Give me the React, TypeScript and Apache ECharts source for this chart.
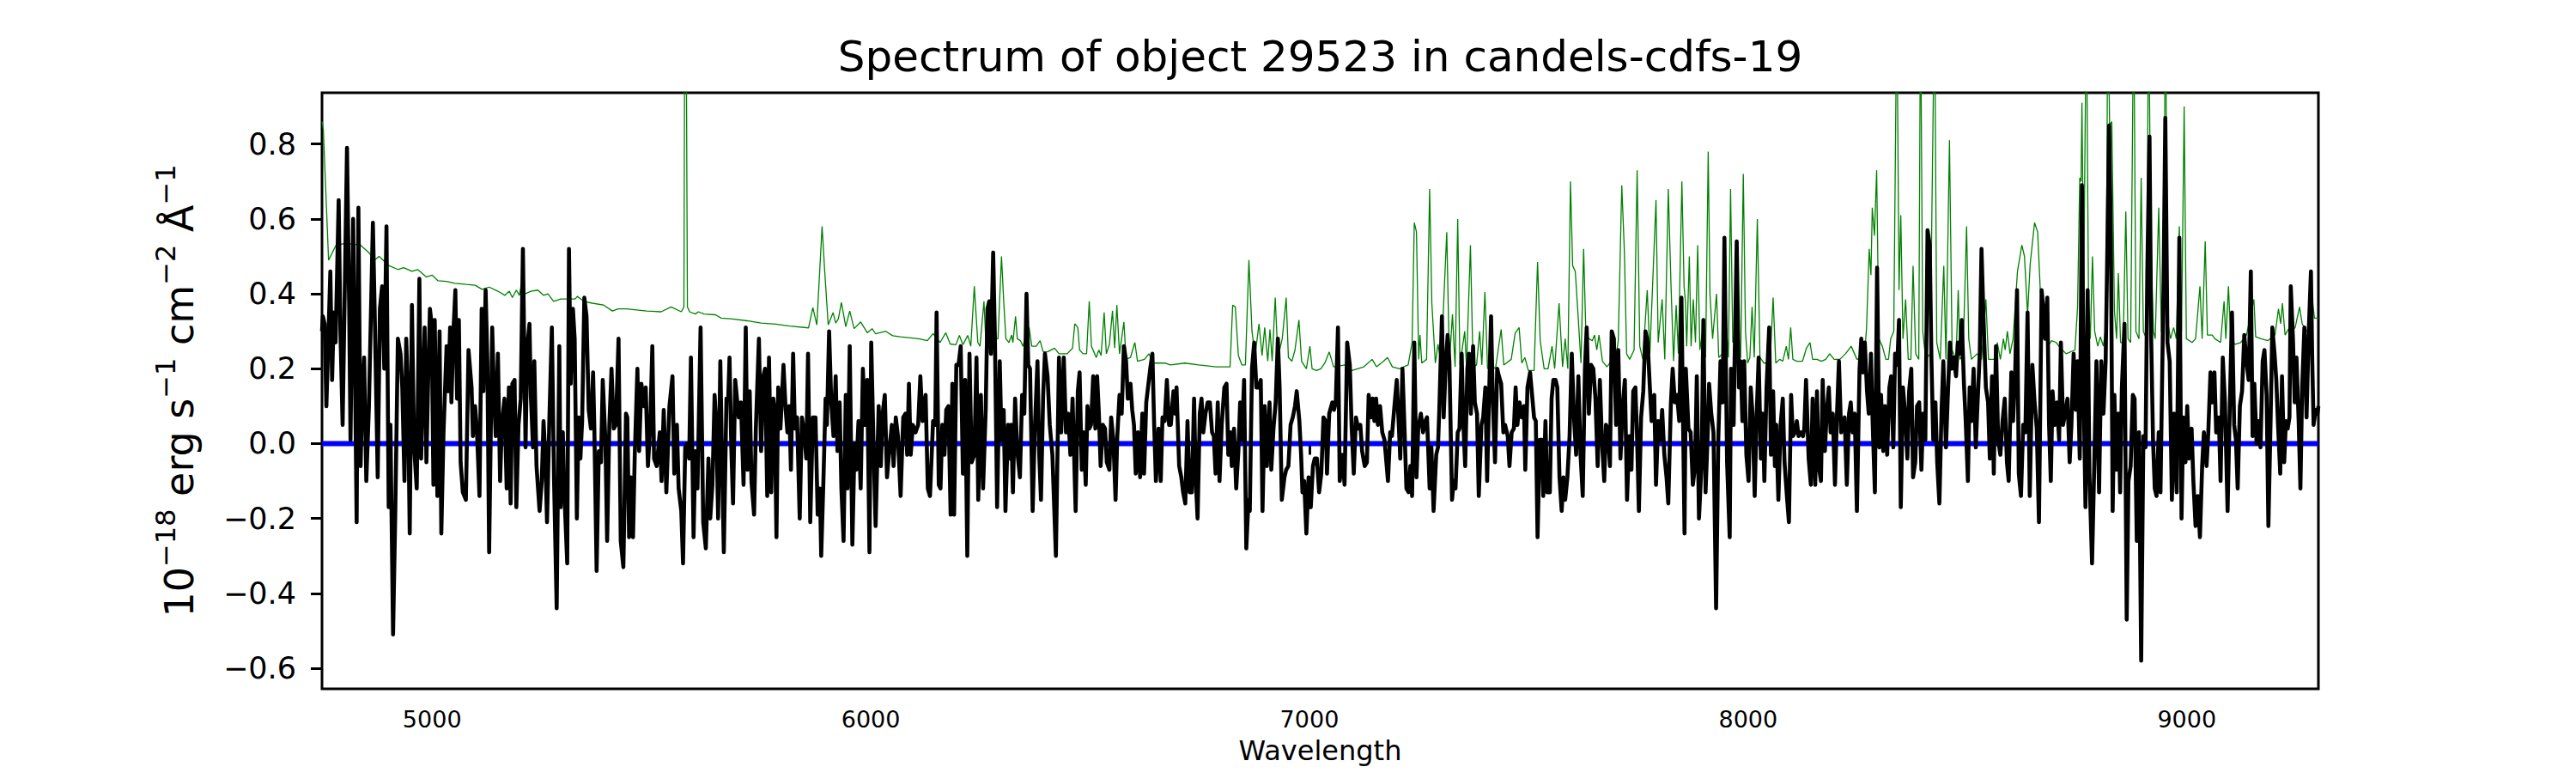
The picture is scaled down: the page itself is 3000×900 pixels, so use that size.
import React, { useEffect, useRef } from "react";
import * as echarts from "echarts";

const FONT = "DejaVu Sans";
const TITLE = "Spectrum of object 29523 in candels-cdfs-19";
const X_MIN = 4749;
const X_MAX = 9300;
const Y_MIN = -0.655;
const Y_MAX = 0.937;
const X_TICKS = [5000, 6000, 7000, 8000, 9000];
const Y_TICKS = [-0.6, -0.4, -0.2, 0, 0.2, 0.4, 0.6, 0.8];

// black: object flux [wavelength, flux]
const FLUX_A: [number, number][] = [
  [4749,0.30],[4751,0.34],[4755,0.32],[4759,0.10],[4768,0.46],[4772,0.17],[4776,0.35],[4780,0.27],[4787,0.65],[4791,0.30],[4796,0.05],[4806,0.79],[4811,0.36],[4814,0.01],[4820,0.60],[4824,0.22],[4828,-0.21],[4832,0.63],[4837,-0.06],[4841,0.14],[4845,0.23],[4850,-0.10],[4856,0.10],[4865,0.59],[4869,0.36],[4876,-0.09],[4881,0.36],[4886,0.42],[4891,0.20],[4896,0.58],[4901,-0.17],[4905,0.05],[4911,-0.51],[4916,-0.19],[4922,0.28],[4928,0.24],[4932,0.15],[4937,-0.10],[4941,0.28],[4945,0.13],[4949,-0.24],[4954,0.37],[4959,-0.01],[4965,-0.12],[4971,0.44],[4975,-0.04],[4979,0.14],[4983,0.31],[4987,-0.05],[4991,0.17],[4995,0.36],[4999,0.32],[5003,-0.11],[5006,0.33],[5012,-0.14],[5017,0.30],[5021,-0.24],[5026,0.03],[5033,0.26],[5037,0.14],[5041,0.31],[5044,0.11],[5049,0.31],[5053,0.41],[5057,0.12],[5061,0.33],[5065,-0.05],[5070,-0.13],[5077,-0.15],[5083,0.25],[5090,0.15],[5093,0.02],[5098,0.10],[5102,0.04],[5108,-0.14],[5113,0.36],[5117,0.14],[5122,0.41],[5126,0.22],[5130,-0.29],[5137,0.31],[5141,0.14],[5145,0.02],[5150,0.24],[5155,-0.10],[5159,0.05],[5165,0.12],[5170,-0.12],[5175,0.15],[5179,-0.16],[5183,0.16],[5188,0.17],[5192,-0.17],[5197,0.05],[5202,0.12],[5207,0.52],[5213,-0.01],[5217,0.26],[5222,0.32],[5225,0.13],[5230,-0.01],[5233,0.22],[5238,-0.06],[5245,-0.18],[5250,-0.10],[5254,0.06],[5258,-0.03],[5262,-0.21],[5267,0.05],[5273,0.31],[5278,-0.10],[5284,-0.44],[5290,0.26],[5293,-0.17],[5298,0.03],[5301,-0.12],[5308,-0.32],[5312,0.52],[5316,0.16],[5321,0.36],[5325,0.28],[5330,-0.20],[5334,0.07],[5338,-0.04],[5342,0.06],[5347,0.39],[5352,0.34],[5357,0.09],[5362,0.04],[5367,0.19],[5370,0.03],[5375,-0.34],[5380,-0.02],[5385,-0.05],[5389,0.17],[5395,0.01],[5399,-0.26],[5404,0.05],[5409,0.20],[5414,0.04],[5419,0.05],[5425,0.28],[5430,-0.26],[5436,-0.33],[5442,0.08]
];
const FLUX_B: [number, number][] = [
  [5445,0.07],[5449,-0.25],[5453,-0.09],[5458,-0.25],[5462,-0.03],[5468,0.20],[5472,-0.02],[5477,0.16],[5483,0.10],[5487,0.15],[5492,-0.06],[5497,0.04],[5502,0.26],[5506,-0.04],[5512,-0.06],[5519,0.03],[5523,-0.10],[5528,0.09],[5534,-0.13],[5541,0.10],[5548,0.18],[5552,-0.08],[5558,0.05],[5562,-0.12],[5568,-0.18],[5572,-0.32],[5577,-0.01],[5581,0.00],[5586,-0.04],[5590,0.23],[5596,-0.25],[5600,-0.02],[5605,-0.12],[5612,0.31],[5618,-0.21],[5624,-0.28],[5630,-0.04],[5634,-0.20],[5639,-0.11],[5644,0.13],[5648,0.05],[5652,-0.20],[5657,0.22],[5661,-0.05],[5665,-0.29],[5671,0.12],[5675,0.12],[5678,0.23],[5682,-0.01],[5686,-0.16],[5691,0.17],[5695,0.12],[5699,0.07],[5704,0.11],[5710,-0.11],[5715,0.31],[5719,-0.07],[5724,0.14],[5728,-0.10],[5734,-0.19],[5738,0.04],[5745,0.28],[5750,-0.02],[5755,0.18],[5759,0.20],[5764,-0.14],[5768,0.23],[5773,-0.13],[5778,0.12],[5781,0.09],[5785,-0.25],[5789,0.15],[5794,0.04],[5801,0.21],[5806,0.09],[5810,0.03],[5814,0.10],[5818,-0.07],[5823,0.24],[5827,0.04],[5832,0.07],[5838,-0.20],[5843,0.07],[5848,0.03],[5853,-0.04],[5857,0.24],[5862,-0.21],[5868,0.07],[5874,0.07],[5879,-0.19],[5884,-0.12],[5887,-0.30],[5892,-0.10],[5897,0.12],[5900,0.05],[5905,0.30],[5910,0.11],[5915,0.02],[5920,0.18],[5924,-0.02],[5929,0.11],[5933,-0.12],[5938,-0.26],[5943,0.13],[5947,-0.12],[5952,0.26],[5958,-0.27],[5963,0.00],[5967,-0.07],[5972,0.06],[5977,-0.12],[5982,0.20],[5987,0.05],[5992,0.17],[5997,-0.29],[6001,0.27],[6006,0.01],[6011,-0.22],[6018,0.10],[6023,-0.06],[6027,0.08],[6032,0.13],[6037,-0.09],[6042,-0.02],[6048,0.05],[6052,-0.06],[6057,0.07],[6062,0.02],[6068,-0.14],[6074,0.07],[6079,0.08],[6083,-0.03],[6087,0.16],[6091,-0.03],[6096,0.05],[6102,0.03],[6108,0.05],[6113,0.18],[6118,0.06],[6125,0.13],[6130,-0.12],[6135,-0.14],[6142,0.06],[6147,0.05],[6150,0.35],[6155,-0.11],[6159,-0.12],[6163,0.05],[6168,-0.03],[6172,0.09],[6177,0.10],[6182,-0.19],[6186,0.16],[6190,-0.19],[6195,0.21],[6200,0.21],[6205,0.26],[6210,-0.08],[6215,0.17],[6220,-0.30],[6225,0.24],[6230,-0.05],[6236,-0.03],[6241,0.23],[6245,-0.15]
];
const FLUX_C: [number, number][] = [
  [6251,0.13],[6256,-0.12],[6262,0.09],[6266,0.36],[6270,0.38],[6274,0.24],[6279,0.51],[6283,0.28],[6288,-0.17],[6294,0.22],[6298,0.01],[6303,0.09],[6307,-0.18],[6313,0.05],[6317,-0.04],[6320,0.05],[6324,-0.13],[6329,0.12],[6334,-0.02],[6340,-0.09],[6345,0.13],[6350,0.08],[6355,0.40],[6359,0.21],[6363,0.20],[6369,-0.18],[6374,0.04],[6380,0.22],[6384,-0.03],[6388,-0.15],[6393,0.13],[6397,0.24],[6403,0.18],[6408,0.05],[6414,-0.03],[6422,-0.30],[6429,0.23],[6434,0.03],[6440,0.23],[6445,0.03],[6450,0.08],[6455,-0.03],[6460,0.12],[6467,-0.18],[6472,0.14],[6476,0.19],[6481,-0.07],[6485,0.03],[6490,-0.11],[6494,0.10],[6498,0.04],[6502,0.05],[6507,0.18],[6512,0.04],[6516,0.18],[6520,0.08],[6524,-0.06],[6529,0.05],[6534,0.04],[6538,-0.05],[6544,-0.07],[6548,0.07],[6553,0.01],[6558,-0.15],[6562,0.02],[6567,0.13],[6572,0.08],[6577,0.26],[6582,0.22],[6586,0.12],[6592,0.16],[6596,0.09],[6600,0.05],[6604,-0.08],[6609,0.03],[6614,-0.09],[6619,0.08],[6623,-0.08],[6628,0.11],[6632,0.15],[6637,0.20],[6642,0.24],[6646,0.05],[6650,-0.10],[6656,0.04],[6661,-0.10],[6665,0.07],[6670,0.06],[6675,0.17],[6680,0.05],[6684,0.05],[6690,0.14],[6694,0.08],[6697,0.15],[6703,-0.06],[6708,-0.09],[6712,-0.13],[6717,-0.16],[6722,0.06],[6727,-0.13],[6732,-0.13],[6737,0.12],[6741,-0.10],[6745,-0.20],[6750,0.08],[6754,0.12],[6758,0.03],[6763,0.08],[6768,0.11],[6773,0.11],[6778,0.03],[6782,0.02],[6786,-0.08],[6791,0.11],[6795,-0.10],[6800,0.05],[6806,0.15],[6811,0.16],[6815,-0.03],[6820,0.03],[6823,-0.06],[6828,0.04],[6833,-0.12],[6838,-0.02],[6842,0.11],[6846,0.01],[6851,0.17],[6856,-0.28],[6861,-0.15],[6864,-0.18],[6869,0.20],[6874,0.27],[6879,0.15],[6884,0.15],[6889,0.17],[6893,-0.18],[6898,0.10],[6903,-0.06],[6909,0.11],[6913,-0.07],[6918,0.04],[6923,0.11],[6928,0.28],[6932,0.15],[6937,-0.15],[6943,-0.09],[6947,-0.07],[6952,-0.06],[6957,0.05],[6962,0.07],[6967,0.10],[6971,0.14],[6977,0.06],[6981,-0.03],[6984,-0.13],[6988,-0.10],[6993,-0.24],[6998,-0.09],[7003,-0.17],[7008,-0.06],[7012,-0.04],[7017,-0.04],[7022,-0.13],[7027,-0.08],[7032,0.07],[7037,0.06],[7040,-0.08],[7045,0.08]
];
const FLUX_D: [number, number][] = [
  [7052,0.11],[7056,0.09],[7060,0.11],[7065,0.31],[7069,-0.10],[7075,-0.03],[7080,-0.11],[7086,0.27],[7092,0.21],[7096,0.05],[7101,-0.08],[7106,0.07],[7111,0.04],[7116,0.05],[7120,-0.02],[7126,-0.06],[7131,-0.05],[7135,0.13],[7140,0.07],[7144,0.12],[7148,0.06],[7152,0.12],[7156,0.05],[7161,0.10],[7166,0.03],[7171,0.01],[7179,-0.10],[7184,0.03],[7188,0.02],[7193,0.09],[7199,0.17],[7204,0.04],[7207,-0.04],[7212,0.20],[7217,0.03],[7221,-0.12],[7226,-0.13],[7230,-0.06],[7234,-0.14],[7239,0.27],[7244,-0.09],[7248,0.04],[7254,0.08],[7259,0.03],[7264,0.06],[7268,0.07],[7274,-0.12],[7278,-0.01],[7283,-0.18],[7289,-0.03],[7293,-0.01],[7296,0.09],[7302,0.34],[7306,0.07],[7311,0.22],[7315,0.29],[7319,0.22],[7325,-0.15],[7329,-0.10],[7333,-0.12],[7338,0.03],[7342,0.04],[7347,0.24],[7351,0.05],[7355,-0.06],[7360,0.20],[7364,0.24],[7368,0.08],[7373,0.26],[7377,0.11],[7382,0.08],[7386,-0.14],[7392,0.05],[7396,0.07],[7401,0.15],[7405,-0.10],[7410,0.15],[7414,0.34],[7418,0.12],[7423,-0.05],[7428,0.20],[7432,0.18],[7437,0.16],[7442,0.03],[7446,0.05],[7452,0.02],[7456,-0.06],[7461,0.03],[7466,0.04],[7470,0.15],[7474,0.05],[7479,0.11],[7484,0.07],[7489,0.10],[7492,-0.07],[7497,0.15],[7503,0.19],[7506,0.15],[7512,0.07],[7516,0.06],[7520,-0.25],[7525,0.01],[7530,0.01],[7533,-0.14],[7538,0.06],[7542,-0.13],[7548,-0.13],[7552,0.12],[7556,0.17],[7561,0.17],[7565,0.15],[7570,-0.09],[7575,-0.18],[7579,-0.09],[7583,-0.15],[7588,-0.09],[7593,0.02],[7598,0.24],[7603,0.07],[7608,-0.03],[7613,0.18],[7618,-0.03],[7623,-0.14],[7628,0.20],[7632,0.31],[7637,0.08],[7642,0.21],[7647,0.20],[7652,0.12],[7657,-0.06],[7662,0.17],[7667,0.00],[7672,-0.10],[7676,0.05],[7680,0.04],[7685,-0.06],[7689,0.30],[7694,0.28],[7699,0.05],[7704,0.25],[7709,-0.04],[7714,0.10],[7719,0.17],[7724,-0.15],[7729,0.02],[7734,-0.07],[7738,0.14],[7743,0.15],[7747,0.01],[7751,-0.18],[7756,0.07],[7761,0.14],[7766,0.30],[7771,0.27],[7776,0.15],[7780,0.06],[7786,0.13],[7790,-0.11],[7795,0.06],[7800,0.01],[7804,0.09],[7809,-0.03],[7814,-0.09],[7818,-0.16],[7824,0.11],[7828,0.20],[7833,0.11],[7838,0.13],[7843,0.06],[7848,0.39]
];
const FLUX_E: [number, number][] = [
  [7855,-0.24],[7858,0.20],[7864,0.04],[7869,0.03],[7874,-0.11],[7879,-0.06],[7883,0.18],[7888,-0.20],[7894,-0.05],[7898,0.33],[7903,-0.13],[7908,0.03],[7911,0.16],[7916,0.08],[7921,0.03],[7927,-0.44],[7932,0.01],[7937,0.22],[7942,0.11],[7946,0.55],[7952,-0.05],[7958,-0.25],[7961,0.20],[7967,0.05],[7969,0.21],[7974,0.54],[7979,0.15],[7983,0.22],[7987,0.06],[7991,0.22],[7996,-0.03],[8001,-0.10],[8006,0.15],[8010,0.08],[8015,-0.14],[8019,0.06],[8024,0.23],[8029,-0.04],[8033,0.08],[8037,-0.10],[8042,0.15],[8048,0.31],[8052,-0.03],[8057,0.14],[8061,-0.06],[8064,0.05],[8069,-0.15],[8074,0.05],[8079,0.12],[8083,-0.05],[8089,-0.15],[8093,-0.21],[8098,0.13],[8102,0.02],[8107,0.03],[8111,0.06],[8115,0.02],[8120,0.03],[8125,0.02],[8128,0.04],[8132,0.17],[8138,-0.04],[8143,-0.11],[8147,0.12],[8153,-0.11],[8157,0.14],[8161,-0.06],[8166,-0.10],[8170,0.17],[8175,-0.02],[8179,0.08],[8184,0.15],[8188,0.03],[8193,0.08],[8198,-0.11],[8202,0.06],[8207,0.22],[8212,0.03],[8216,0.05],[8220,0.07],[8225,-0.11],[8230,0.08],[8234,0.11],[8238,0.03],[8243,0.08],[8248,-0.18],[8254,0.20],[8258,0.28],[8262,0.19],[8266,0.27],[8271,0.14],[8275,0.08],[8280,0.24],[8284,0.05],[8289,-0.13],[8294,0.47],[8299,-0.01],[8303,0.13],[8308,-0.02],[8312,0.10],[8317,-0.03],[8322,0.15],[8326,0.18],[8331,-0.01],[8335,0.24],[8340,0.21],[8344,0.33],[8348,-0.17],[8353,0.15],[8358,0.08],[8363,-0.04],[8367,0.14],[8372,0.20],[8376,-0.09],[8381,-0.05],[8385,0.10],[8390,0.11],[8395,-0.07],[8399,0.08],[8404,0.01],[8409,0.57],[8414,0.53],[8418,0.22],[8422,0.01],[8427,0.11],[8431,-0.05],[8436,-0.16],[8441,0.09],[8445,0.22],[8451,-0.01],[8455,0.12],[8460,0.27],[8464,0.20],[8469,0.23],[8474,0.18],[8478,0.27],[8483,0.24],[8487,0.33],[8492,0.16],[8496,0.06],[8501,-0.10],[8505,0.15],[8509,0.06],[8514,0.20],[8519,-0.01],[8522,0.08],[8528,0.24],[8532,0.52],[8537,0.32],[8542,0.15],[8547,0.11],[8551,-0.04],[8556,0.18],[8560,-0.08],[8565,0.26],[8570,0.01],[8575,-0.03],[8580,0.06],[8585,0.12],[8590,-0.05],[8594,-0.10]
];
const FLUX_F: [number, number][] = [
  [8600,0.19],[8604,0.06],[8609,0.20],[8613,0.41],[8617,-0.08],[8622,-0.14],[8627,0.05],[8632,0.03],[8637,0.35],[8642,-0.14],[8648,0.21],[8653,0.11],[8658,0.04],[8663,-0.21],[8669,0.41],[8673,0.36],[8677,0.28],[8682,0.39],[8686,0.05],[8690,-0.10],[8694,0.14],[8699,0.05],[8704,0.11],[8709,0.01],[8713,0.27],[8718,0.05],[8724,0.09],[8728,0.12],[8733,-0.05],[8737,0.05],[8742,0.24],[8747,0.09],[8751,0.22],[8756,-0.04],[8761,0.69],[8765,0.13],[8769,-0.17],[8774,0.41],[8778,-0.08],[8784,-0.32],[8789,-0.06],[8794,0.22],[8800,-0.13],[8805,0.22],[8810,0.08],[8815,0.22],[8819,0.53],[8823,0.85],[8827,0.55],[8831,-0.18],[8835,0.13],[8839,-0.07],[8844,0.08],[8848,-0.13],[8852,0.15],[8858,0.32],[8863,-0.47],[8867,-0.10],[8872,-0.06],[8877,0.13],[8881,0.12],[8886,-0.26],[8891,0.03],[8896,-0.58],[8901,0.02],[8906,-0.01],[8910,0.46],[8915,0.82],[8919,0.27],[8923,0.01],[8927,-0.12],[8931,-0.14],[8936,0.03],[8940,-0.13],[8947,0.43],[8951,0.87],[8956,0.27],[8961,0.22],[8966,-0.15],[8971,0.08],[8977,-0.13],[8983,0.55],[8988,-0.20],[8992,0.07],[8997,-0.05],[9001,0.10],[9005,-0.04],[9011,0.04],[9015,-0.10],[9020,-0.22],[9025,-0.14],[9030,-0.25],[9035,-0.06],[9039,0.03],[9045,-0.06],[9049,0.03],[9054,0.19],[9058,0.11],[9063,0.19],[9067,0.03],[9073,0.07],[9077,-0.10],[9082,0.23],[9087,0.11],[9093,-0.18],[9098,0.10],[9103,0.35],[9108,0.05],[9112,0.01],[9116,-0.12],[9121,0.10],[9126,0.14],[9131,0.29],[9136,0.22],[9141,0.17],[9146,0.46],[9150,0.02],[9154,0.16],[9159,0.00],[9163,0.06],[9168,-0.01],[9173,0.22],[9177,0.25],[9182,0.13],[9186,-0.22],[9191,0.06],[9195,0.31],[9200,0.24],[9204,0.17],[9208,0.05],[9213,-0.08],[9217,0.18],[9222,-0.05],[9226,0.06],[9230,0.04],[9234,0.07],[9237,0.42],[9242,0.28],[9246,0.11],[9250,0.23],[9255,0.06],[9259,-0.12],[9263,0.15],[9268,0.31],[9273,0.07],[9278,0.30],[9283,0.46],[9286,0.22],[9289,0.05],[9294,0.09],[9298,0.08],[9300,0.10]
];

// green: noise / sky spectrum [wavelength, sigma]
const SIGMA_A: [number, number][] = [
  [4749,0.86],[4752,0.84],[4764,0.49],[4781,0.53],[4804,0.535],[4837,0.53],[4856,0.51],[4869,0.49],[4879,0.50],[4902,0.475],[4922,0.465],[4935,0.47],[4954,0.46],[4967,0.465],[4987,0.445],[5000,0.45],[5013,0.435],[5033,0.433],[5052,0.428],[5078,0.425],[5098,0.423],[5114,0.412],[5130,0.418],[5150,0.407],[5166,0.396],[5176,0.407],[5183,0.39],[5192,0.41],[5199,0.396],[5203,0.423],[5212,0.40],[5225,0.407],[5241,0.41],[5254,0.396],[5264,0.40],[5277,0.38],[5293,0.386],[5326,0.386],[5331,0.393],[5346,0.38],[5365,0.375],[5391,0.37],[5411,0.354],[5424,0.36],[5443,0.36],
  [5489,0.354],[5522,0.352],[5545,0.365],[5568,0.352],[5574,0.365],[5576,1.2],[5579,1.2],[5582,0.365],[5587,0.352],[5600,0.346],[5607,0.352],[5620,0.346],[5646,0.344],[5659,0.335],[5685,0.333],[5718,0.328],[5750,0.322],[5783,0.319],[5815,0.314],[5858,0.309],[5868,0.363],[5877,0.317],[5889,0.58],[5895,0.46],[5903,0.317],[5914,0.35],[5920,0.322],[5926,0.333],[5933,0.377],[5943,0.312],[5952,0.354],[5962,0.307],[5977,0.325],[5992,0.296],[6003,0.307],[6011,0.293],[6034,0.30],[6050,0.288],[6067,0.285],[6109,0.28],[6129,0.275],[6142,0.294],[6158,0.27],[6171,0.296],[6181,0.266],[6194,0.264],[6202,0.289],[6210,0.264],[6221,0.289],[6228,0.26],[6236,0.42],[6244,0.27]
];
const SIGMA_B: [number, number][] = [
  [6249,0.26],[6258,0.38],[6262,0.28],[6268,0.37],[6273,0.27],[6279,0.33],[6284,0.28],[6290,0.28],[6298,0.50],[6303,0.38],[6308,0.28],[6315,0.27],[6321,0.29],[6324,0.27],[6330,0.34],[6334,0.28],[6341,0.275],[6347,0.26],[6356,0.30],[6361,0.31],[6367,0.26],[6377,0.26],[6386,0.275],[6393,0.245],[6403,0.245],[6419,0.255],[6429,0.24],[6448,0.24],[6460,0.255],[6465,0.32],[6472,0.31],[6476,0.25],[6484,0.24],[6492,0.24],[6498,0.38],[6503,0.26],[6514,0.23],[6520,0.25],[6525,0.235],[6532,0.35],[6537,0.24],[6544,0.265],[6551,0.355],[6556,0.255],[6561,0.37],[6567,0.24],[6577,0.325],[6582,0.225],[6592,0.23],[6602,0.27],[6608,0.22],[6624,0.225],[6634,0.24],[6644,0.215],[6670,0.215],[6683,0.21],[6716,0.215],[6748,0.21],[6787,0.205],[6819,0.205],[6825,0.37],[6831,0.365],[6838,0.235],[6846,0.21],[6854,0.21],[6862,0.49],[6869,0.30],[6876,0.235],[6885,0.32],[6892,0.235],[6898,0.31],[6905,0.22],[6910,0.305],[6915,0.22],[6922,0.39],[6928,0.23],[6938,0.28],[6947,0.39],[6952,0.23],[6960,0.22],[6967,0.25],[6976,0.33],[6982,0.22],[6993,0.20],[7001,0.26],[7006,0.20],[7016,0.195],[7026,0.20],[7035,0.215],[7045,0.245]
];
const SIGMA_C: [number, number][] = [
  [7055,0.205],[7081,0.21],[7097,0.195],[7124,0.205],[7143,0.225],[7153,0.205],[7169,0.22],[7178,0.23],[7189,0.205],[7205,0.20],[7225,0.21],[7234,0.27],[7239,0.59],[7244,0.565],[7249,0.225],[7252,0.29],[7256,0.215],[7267,0.225],[7274,0.68],[7279,0.375],[7287,0.215],[7293,0.265],[7300,0.215],[7313,0.565],[7319,0.215],[7326,0.345],[7332,0.205],[7338,0.60],[7343,0.21],[7354,0.30],[7358,0.205],[7367,0.53],[7373,0.205],[7381,0.21],[7388,0.30],[7393,0.21],[7400,0.405],[7406,0.20],[7414,0.21],[7424,0.20],[7437,0.305],[7443,0.21],[7460,0.225],[7469,0.295],[7478,0.31],[7484,0.215],[7491,0.23],[7499,0.195],[7512,0.195],[7520,0.485],[7526,0.275],[7535,0.20],[7544,0.20],[7553,0.26],[7559,0.20],[7569,0.375],[7577,0.205],[7583,0.28],[7589,0.20],[7595,0.70],[7600,0.475],[7606,0.46],[7613,0.33],[7619,0.215],[7625,0.52],[7630,0.30],[7637,0.28],[7645,0.275],[7650,0.29],[7655,0.25],[7660,0.29],[7668,0.22],[7678,0.205],[7688,0.22],[7698,0.225],[7704,0.275],[7712,0.69],[7718,0.51],[7723,0.24],[7730,0.225],[7740,0.25],[7747,0.73],[7753,0.26],[7760,0.225],[7770,0.41],[7776,0.24],[7790,0.65],[7795,0.27],[7804,0.385],[7810,0.225],[7818,0.68],[7824,0.43],[7830,0.22]
];
const SIGMA_D: [number, number][] = [
  [7836,0.37],[7841,0.24],[7849,0.70],[7854,0.42],[7857,0.38],[7860,0.26],[7866,0.50],[7870,0.26],[7875,0.385],[7880,0.27],[7885,0.53],[7890,0.25],[7896,0.30],[7903,0.23],[7909,0.78],[7913,0.40],[7919,0.28],[7928,0.40],[7933,0.23],[7942,0.24],[7950,0.32],[7955,0.23],[7960,0.68],[7965,0.27],[7971,0.30],[7975,0.215],[7983,0.23],[7989,0.72],[7994,0.30],[7999,0.215],[8004,0.23],[8009,0.365],[8014,0.23],[8021,0.60],[8027,0.23],[8036,0.215],[8050,0.215],[8057,0.39],[8063,0.215],[8072,0.225],[8079,0.22],[8087,0.26],[8092,0.225],[8097,0.31],[8102,0.225],[8111,0.22],[8124,0.22],[8133,0.255],[8141,0.27],[8147,0.225],[8157,0.225],[8167,0.22],[8177,0.225],[8186,0.24],[8196,0.225],[8209,0.225],[8222,0.24],[8235,0.26],[8248,0.225],[8265,0.23],[8270,0.31],[8276,0.52],[8280,0.45],[8283,0.63],[8288,0.555],[8293,0.73],[8298,0.28],[8306,0.26],[8314,0.225],[8320,0.225],[8325,0.28],[8332,0.30],[8339,1.2],[8344,0.41],[8348,0.61],[8353,0.28],[8359,0.385],[8365,0.225],[8371,0.225],[8376,0.475],[8382,0.24],[8389,0.225],[8393,1.2],[8398,0.30],[8405,0.225],[8415,0.24],[8425,1.2],[8430,0.27],[8438,0.225],[8446,0.475],[8451,0.225],[8459,0.81],[8465,0.25],[8474,0.225],[8479,0.41],[8483,0.225],[8490,0.24],[8498,0.58],[8503,0.28],[8509,0.225],[8522,0.24],[8532,0.225],[8542,0.385],[8548,0.225],[8562,0.225],[8568,0.27],[8575,0.225],[8582,0.28],[8586,0.25],[8591,0.30],[8597,0.24]
];
const SIGMA_E: [number, number][] = [
  [8604,0.28],[8614,0.46],[8624,0.53],[8630,0.50],[8637,0.345],[8643,0.48],[8653,0.59],[8660,0.565],[8666,0.41],[8673,0.31],[8683,0.26],[8692,0.275],[8702,0.27],[8712,0.255],[8725,0.24],[8745,0.25],[8751,0.365],[8756,0.71],[8759,0.70],[8761,0.91],[8765,0.41],[8771,1.2],[8776,0.375],[8780,0.28],[8785,0.50],[8790,0.30],[8797,0.26],[8803,0.285],[8810,0.26],[8816,0.32],[8820,1.2],[8824,0.85],[8829,0.86],[8835,0.355],[8840,0.28],[8844,0.455],[8849,0.27],[8855,0.27],[8861,0.62],[8866,0.28],[8872,0.27],[8879,1.2],[8884,0.30],[8891,0.28],[8896,0.71],[8901,0.30],[8908,0.28],[8913,1.2],[8918,0.53],[8924,0.30],[8928,0.28],[8936,0.63],[8942,0.30],[8947,0.28],[8951,1.2],[8957,0.32],[8963,0.28],[8970,0.31],[8976,0.28],[8983,0.58],[8988,0.30],[8994,0.90],[8999,0.28],[9012,0.27],[9020,0.28],[9030,0.42],[9035,0.28],[9042,0.54],[9047,0.29],[9058,0.29],[9064,0.28],[9077,0.27],[9085,0.38],[9089,0.28],[9095,0.42],[9100,0.28],[9110,0.265],[9123,0.27],[9136,0.29],[9153,0.385],[9157,0.285],[9169,0.28],[9185,0.275],[9201,0.29],[9209,0.36],[9214,0.32],[9218,0.375],[9224,0.29],[9234,0.31],[9240,0.30],[9247,0.31],[9257,0.365],[9263,0.32],[9273,0.30],[9279,0.31],[9286,0.385],[9291,0.335],[9300,0.335]
];

const ZERO_LINE: [number, number][] = [[X_MIN, 0], [X_MAX, 0]];

const FLUX = [...FLUX_A, ...FLUX_B, ...FLUX_C, ...FLUX_D, ...FLUX_E, ...FLUX_F];
const SIGMA = [...SIGMA_A, ...SIGMA_B, ...SIGMA_C, ...SIGMA_D, ...SIGMA_E];

const fmtY = (v: number) => (Math.abs(v) < 1e-9 ? "0.0" : v.toFixed(1)).replace("-", "\u2212");

export default function App() {
  const ref = useRef<HTMLDivElement>(null);
  useEffect(() => {
    document.body.style.margin = "0";
    if (!ref.current) return;
    const chart = echarts.init(ref.current, undefined, { renderer: "svg" });
    chart.setOption({
      animation: false,
      backgroundColor: "#ffffff",
      grid: {
        left: 375,
        right: 300,
        top: 108,
        bottom: 98,
        show: true,
        borderColor: "#000000",
        borderWidth: 3,
        backgroundColor: "transparent",
      },
      graphic: [
        {
          type: "text",
          x: 1537.5,
          y: 66,
          style: {
            text: TITLE,
            fontFamily: FONT,
            fontSize: 50,
            fill: "#000000",
            textAlign: "center",
            textVerticalAlign: "middle",
          },
        },
      ],
      xAxis: {
        type: "value",
        min: X_MIN,
        max: X_MAX,
        axisLine: { show: false },
        splitLine: { show: false },
        axisTick: {
          show: true,
          length: 13,
          customValues: X_TICKS,
          lineStyle: { color: "#000000", width: 3 },
        },
        axisLabel: {
          customValues: X_TICKS,
          margin: 22,
          fontSize: 27,
          fontFamily: FONT,
          color: "#000000",
          formatter: (v: number) => String(v),
        },
        name: "Wavelength",
        nameLocation: "middle",
        nameGap: 56,
        nameTextStyle: { fontSize: 32, fontFamily: FONT, color: "#000000" },
      },
      yAxis: {
        type: "value",
        min: Y_MIN,
        max: Y_MAX,
        axisLine: { show: false },
        splitLine: { show: false },
        axisTick: {
          show: true,
          length: 13,
          customValues: Y_TICKS,
          lineStyle: { color: "#000000", width: 3 },
        },
        axisLabel: {
          customValues: Y_TICKS,
          margin: 30,
          fontSize: 35,
          fontFamily: FONT,
          color: "#000000",
          formatter: fmtY,
        },
        name: "{m|10}{s|\u221218}{m| erg s}{s|\u22121}{m| cm}{s|\u22122}{m| \u00c5}{s|\u22121}",
        nameLocation: "middle",
        nameRotate: 90,
        nameGap: 134,
        nameTextStyle: {
          fontFamily: FONT,
          color: "#000000",
          rich: {
            m: { fontSize: 46, lineHeight: 64, fontFamily: FONT, color: "#000000" },
            s: { fontSize: 32, lineHeight: 32, verticalAlign: "top", fontFamily: FONT, color: "#000000" },
          },
        },
      },
      series: [
        {
          type: "line",
          data: SIGMA,
          showSymbol: false,
          silent: true,
          z: 1,
          lineStyle: { color: "#008000", width: 1.3 },
        },
        {
          type: "line",
          data: ZERO_LINE,
          showSymbol: false,
          silent: true,
          z: 2,
          lineStyle: { color: "#0000ff", width: 6 },
        },
        {
          type: "line",
          data: FLUX,
          showSymbol: false,
          silent: true,
          z: 3,
          lineStyle: { color: "#000000", width: 4.6, join: "round" },
        },
      ],
    });
    return () => chart.dispose();
  }, []);
  return <div ref={ref} style={{ width: 3000, height: 900 }} />;
}
